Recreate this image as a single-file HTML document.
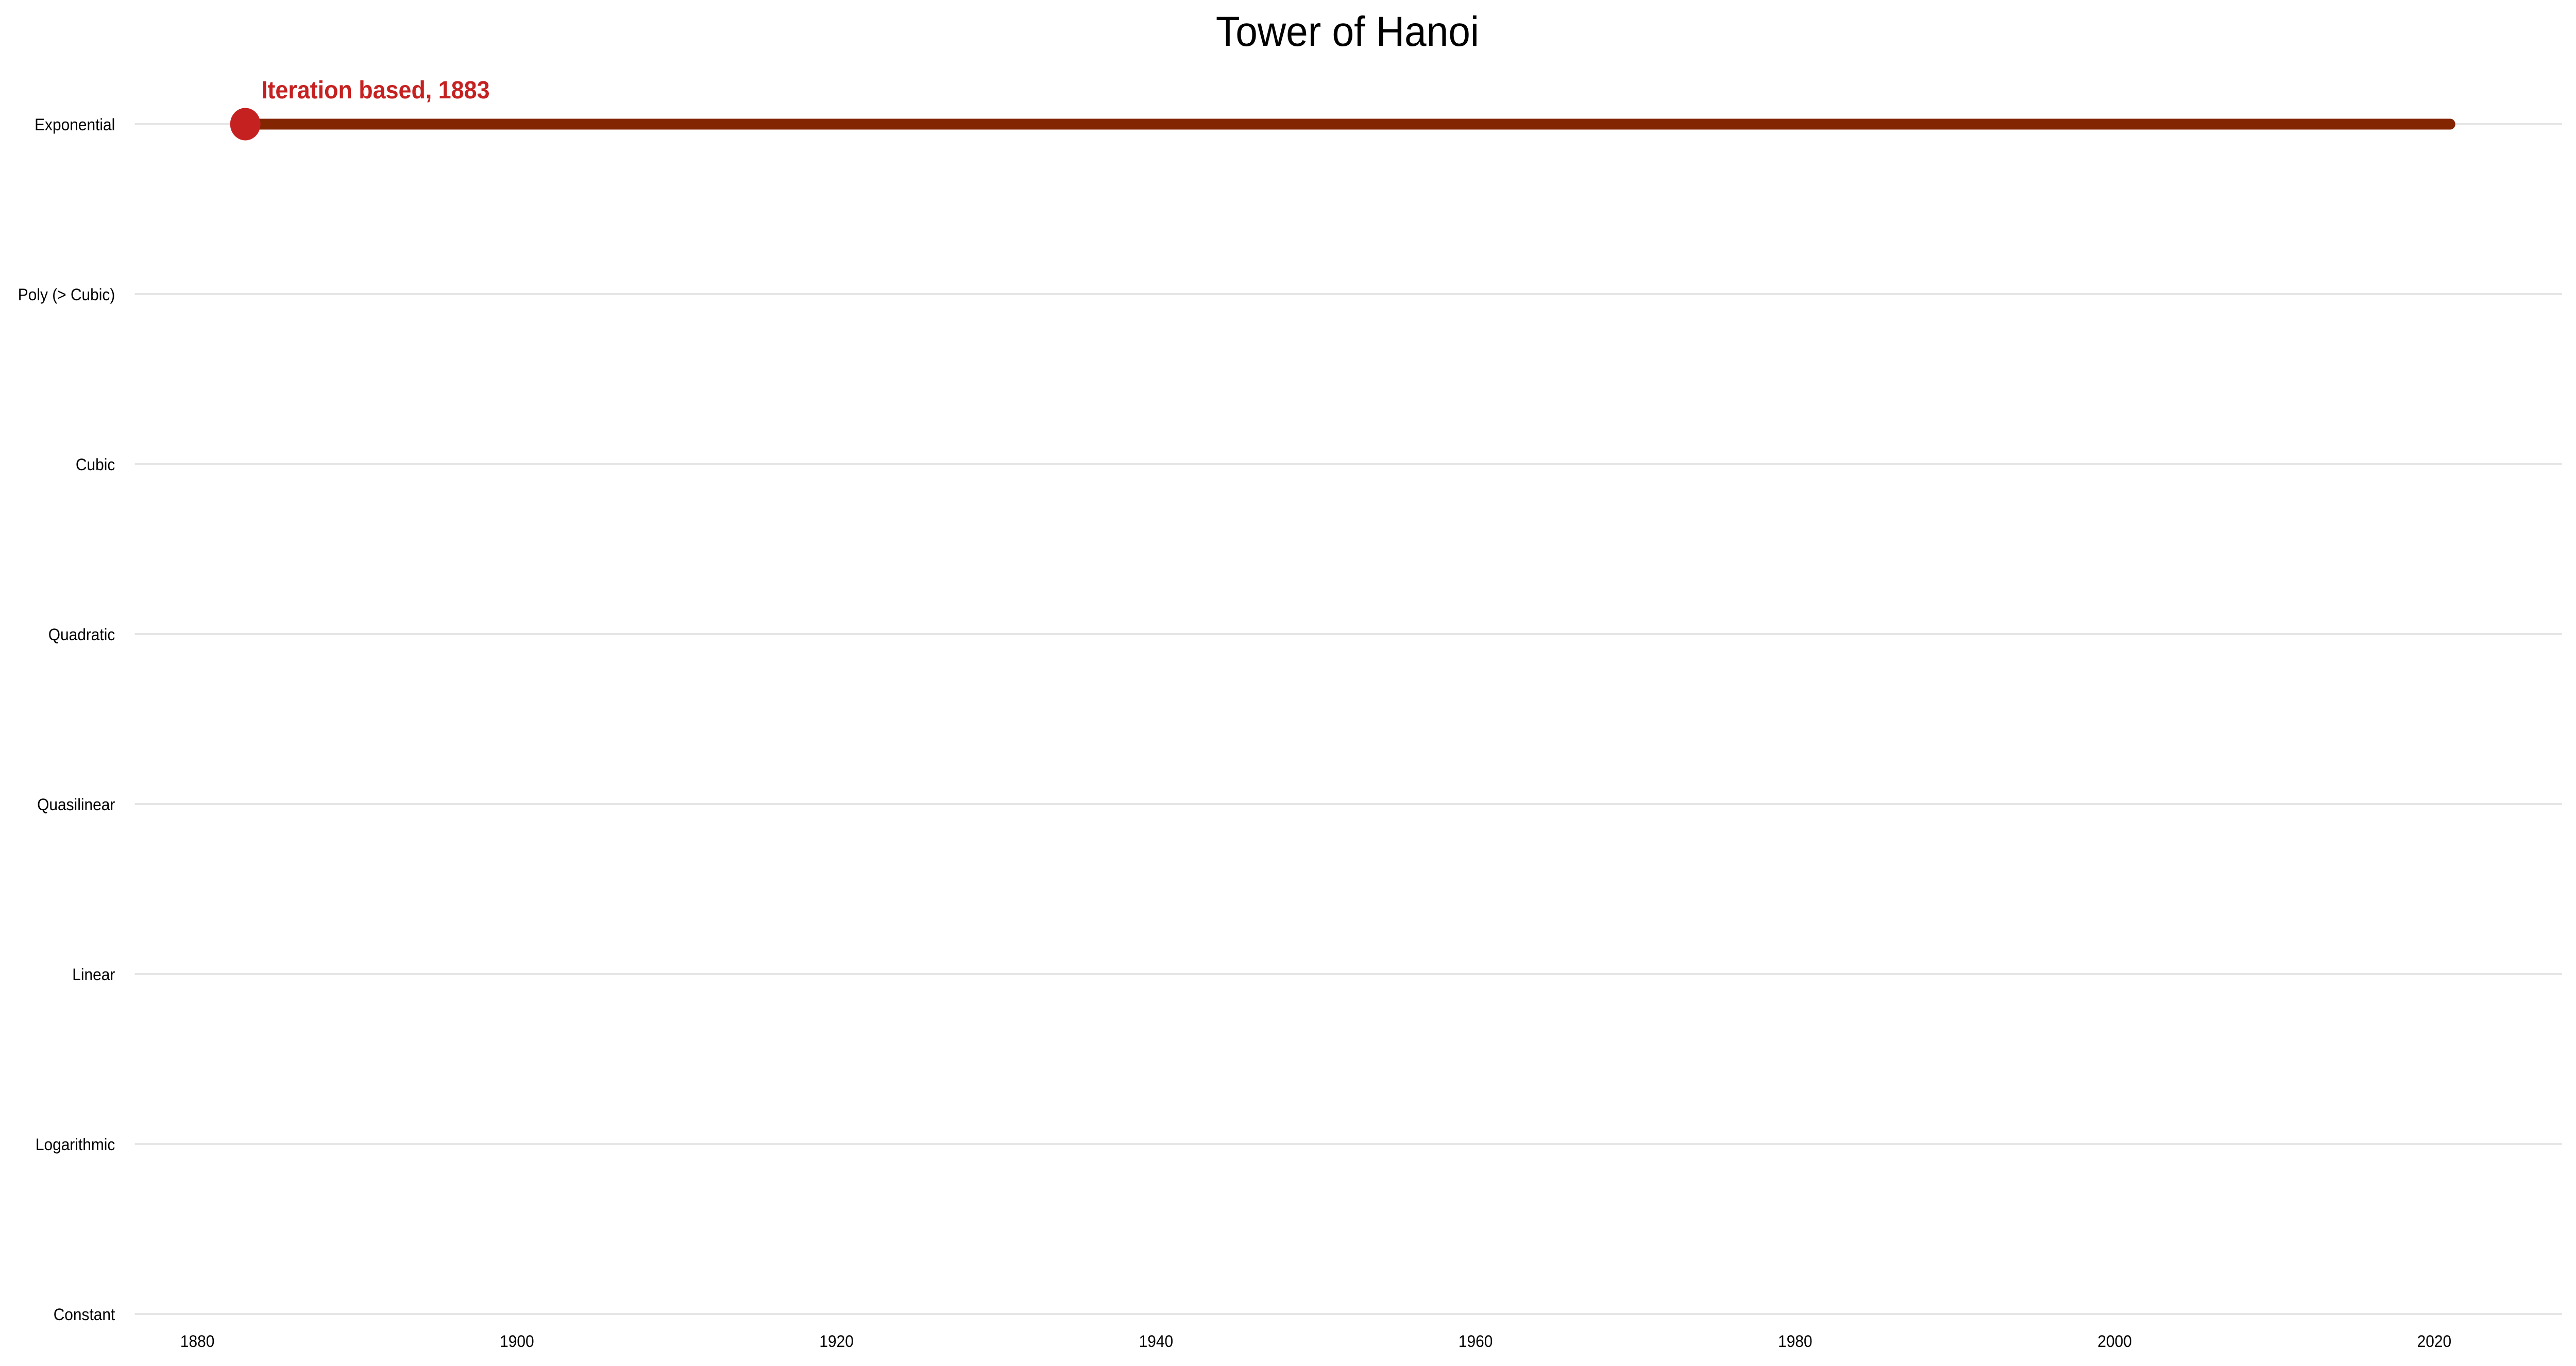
<!DOCTYPE html>
<html><head><meta charset="utf-8"><style>
html,body{margin:0;padding:0;background:#fff;overflow:hidden;width:100%;height:100%;}
svg{display:block;font-family:"Liberation Sans",Arial,sans-serif;width:100vw;height:100vh;}
</style></head><body>
<svg id="chart" viewBox="0 0 5351 2652" preserveAspectRatio="none">
<text x="2799" y="89" font-size="82" text-anchor="middle" fill="#000">Tower of Hanoi</text>
<g id="grid"></g>
<g id="ylabels"></g>
<g id="xlabels"></g>
<g id="marks"></g>
</svg>
<script>
const categories = ["Constant","Logarithmic","Linear","Quasilinear","Quadratic","Cubic","Poly (> Cubic)","Exponential"];
const xTicks = [1880,1900,1920,1940,1960,1980,2000,2020];
const seriesCategory = ["Exponential"];
const seriesStart = [1883];
const seriesEnd = [2021];
const seriesLabel = ["Iteration based, 1883"];

const NS = "http://www.w3.org/2000/svg";
function xScale(yr){ return 410 + (yr - 1880) * 33.19; }
function yScale(cat){ const i = categories.indexOf(cat); return 2551 - i * 330; }
function mk(tag, attrs, parent){ const e = document.createElementNS(NS, tag); for (const k in attrs) e.setAttribute(k, attrs[k]); parent.appendChild(e); return e; }

const grid = document.getElementById('grid');
const yl = document.getElementById('ylabels');
const xl = document.getElementById('xlabels');
const marks = document.getElementById('marks');

categories.forEach(c => {
  const y = yScale(c);
  const l = mk('line', {x1:280, x2:5322, y1:y, y2:y, stroke:'#e6e6e6', 'stroke-width':4}, grid);
  
  
  const t = mk('text', {x:239, y:y+12, 'font-size':32, 'text-anchor':'end', fill:'#000'}, yl);
  t.textContent = c;
  
  
});
xTicks.forEach(v => {
  const t = mk('text', {x:xScale(v), y:2615, 'font-size':32, 'text-anchor':'middle', fill:'#000'}, xl);
  t.textContent = v;
  
  
});
seriesCategory.forEach((c, i) => {
  const y = yScale(c);
  const x0 = xScale(seriesStart[i]), x1 = xScale(seriesEnd[i]);
  const bar = mk('line', {x1:x0, x2:x1, y1:y, y2:y, stroke:'#832500', 'stroke-width':21, 'stroke-linecap':'round'}, marks);
  
  
  const dot = mk('circle', {cx:x0, cy:y, r:31.5, fill:'#C62121'}, marks);
  
  
  const lab = mk('text', {x:x0+33, y:y-50, 'font-size':48, 'font-weight':'bold', fill:'#C62121'}, marks);
  lab.textContent = seriesLabel[i];
  
  
});
</script>
</body></html>
